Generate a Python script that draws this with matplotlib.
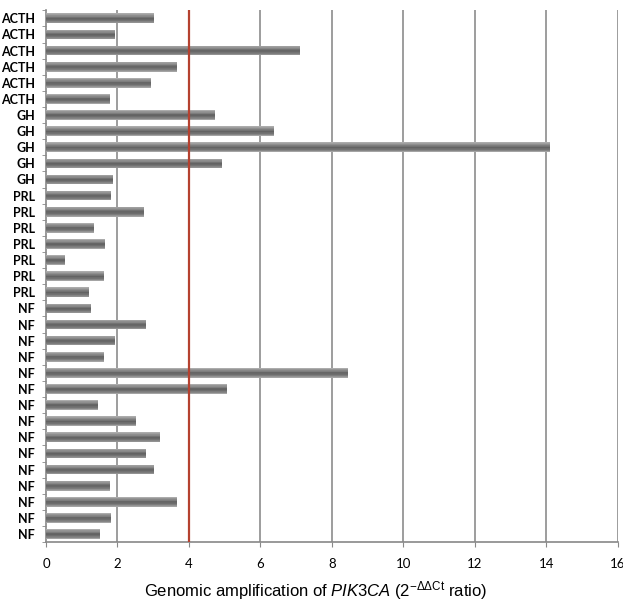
import matplotlib
matplotlib.use("Agg")
import matplotlib.pyplot as plt
import numpy as np

categories = (["ACTH"] * 6 + ["GH"] * 5 + ["PRL"] * 7 + ["NF"] * 15)
values = [3.02, 1.93, 7.10, 3.66, 2.94, 1.79,
          4.73, 6.38, 14.10, 4.92, 1.87,
          1.82, 2.74, 1.34, 1.65, 0.53, 1.62, 1.20,
          1.26, 2.80, 1.93, 1.62, 8.45, 5.06, 1.45, 2.52, 3.19, 2.80, 3.02, 1.79, 3.66, 1.82, 1.51]
x_ticks = [0, 2, 4, 6, 8, 10, 12, 14, 16]
threshold = 4

plt.rcParams['mathtext.fontset'] = 'custom'
plt.rcParams['mathtext.rm'] = 'Liberation Sans'
plt.rcParams['mathtext.it'] = 'Liberation Sans:italic'

fig = plt.figure(figsize=(6.23, 6.05), dpi=100)
ax = fig.add_axes([0.0738, 0.104, 0.918, 0.879])

y = np.arange(len(values))
# shaded (cylinder-like) bars built from thin horizontal slices
bar_h = 0.6
n_slices = 16
profile_t = np.array([0.0, 0.12, 0.3, 0.5, 0.7, 0.88, 1.0])
profile_v = np.array([0.70, 0.60, 0.52, 0.38, 0.44, 0.54, 0.68])
edges = np.linspace(-bar_h / 2, bar_h / 2, n_slices + 1)
for i in range(n_slices):
    t = (i + 0.5) / n_slices
    g = np.interp(t, profile_t, profile_v)
    ax.barh(y + (edges[i] + edges[i + 1]) / 2, values, height=(edges[i + 1] - edges[i]) * 1.05,
            color=(g, g, g), zorder=3, linewidth=0)

ax.set_xlim(0, 16)
ax.set_ylim(len(values) - 0.5, -0.5)
ax.set_xticks(x_ticks)
ax.set_xticklabels([str(t) for t in x_ticks], family='Lato', fontsize=9.5)
ax.set_yticks(y)
ax.set_yticklabels(categories, family='Lato', fontweight='bold', fontsize=9)
ax.tick_params(axis='y', length=0, pad=8)
ax.set_yticks(np.arange(-0.5, len(values)), minor=True)
ax.tick_params(axis='y', which='minor', length=3, color='#888888', direction='out')
ax.tick_params(axis='x', length=3.5, color='#888888', direction='out', pad=8)

for t in x_ticks[1:]:
    ax.axvline(t, color='#8c8c8c', linewidth=1.2, zorder=1)
ax.axvline(threshold, color='#b5412f', linewidth=1.6, zorder=4)

for s in ['top', 'right']:
    ax.spines[s].set_visible(False)
for s in ['left', 'bottom']:
    ax.spines[s].set_color('#888888')
    ax.spines[s].set_linewidth(1.2)

ax.set_xlabel(r'Genomic amplification of $\mathit{PIK3CA}$ (2$^{-\Delta\Delta \mathrm{Ct}}$ ratio)',
              family='Liberation Sans', fontsize=12)
ax.xaxis.set_label_coords(0.471, -0.07)

fig.savefig('out.png', dpi=100)
